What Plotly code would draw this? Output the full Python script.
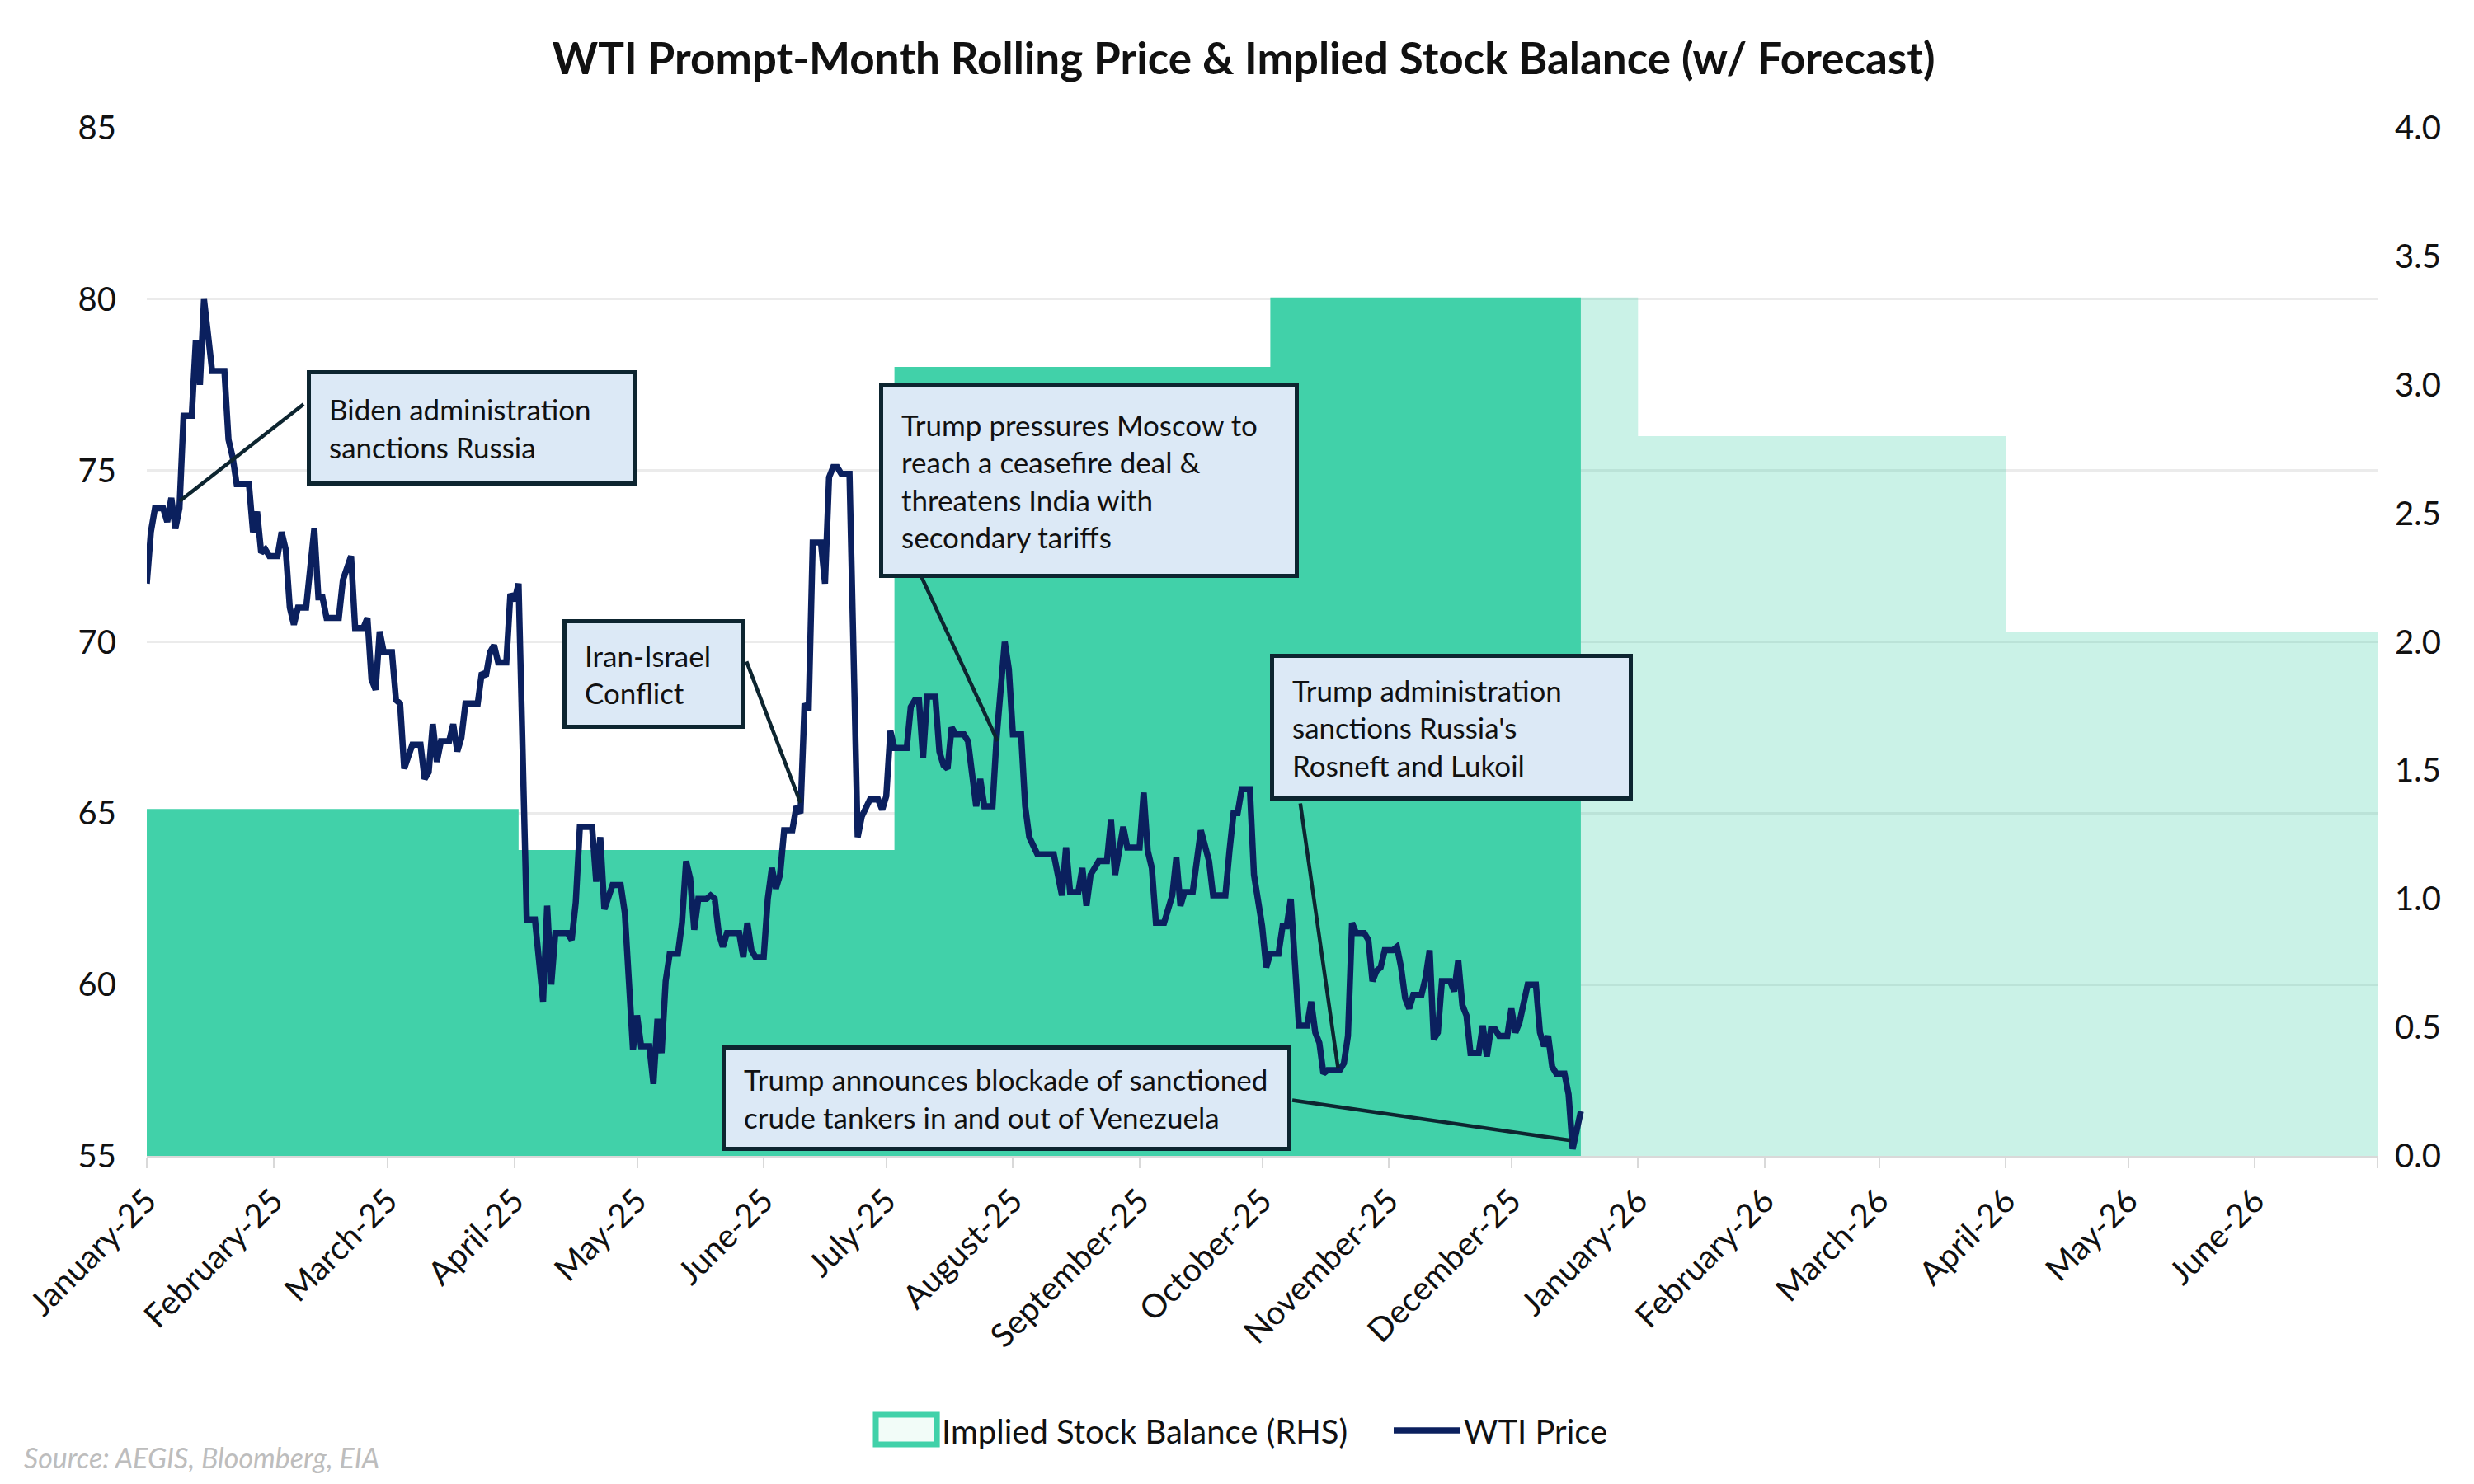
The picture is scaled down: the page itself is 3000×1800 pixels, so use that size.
import plotly.graph_objects as go

# ---------------- data ----------------
price_dates = [
    "2025-01-01", "2025-01-02", "2025-01-03", "2025-01-05", "2025-01-06", "2025-01-07", "2025-01-08",
    "2025-01-09", "2025-01-10", "2025-01-12", "2025-01-13", "2025-01-14", "2025-01-15", "2025-01-16",
    "2025-01-17", "2025-01-20", "2025-01-21", "2025-01-22", "2025-01-23", "2025-01-26", "2025-01-27",
    "2025-01-28", "2025-01-29", "2025-01-30", "2025-01-31", "2025-02-02", "2025-02-03", "2025-02-04",
    "2025-02-05", "2025-02-06", "2025-02-07", "2025-02-09", "2025-02-11", "2025-02-12", "2025-02-13",
    "2025-02-14", "2025-02-17", "2025-02-18", "2025-02-20", "2025-02-21", "2025-02-23", "2025-02-24",
    "2025-02-25", "2025-02-26", "2025-02-27", "2025-02-28", "2025-03-02", "2025-03-03", "2025-03-04",
    "2025-03-05", "2025-03-07", "2025-03-09", "2025-03-10", "2025-03-11", "2025-03-12", "2025-03-13",
    "2025-03-14", "2025-03-16", "2025-03-17", "2025-03-18", "2025-03-19", "2025-03-20", "2025-03-23",
    "2025-03-24", "2025-03-25", "2025-03-26", "2025-03-27", "2025-03-28", "2025-03-30", "2025-03-31",
    "2025-04-01", "2025-04-02", "2025-04-04", "2025-04-06", "2025-04-08", "2025-04-09", "2025-04-10",
    "2025-04-11", "2025-04-14", "2025-04-15", "2025-04-16", "2025-04-17", "2025-04-20", "2025-04-21",
    "2025-04-22", "2025-04-23", "2025-04-25", "2025-04-27", "2025-04-28", "2025-04-30", "2025-05-01",
    "2025-05-02", "2025-05-04", "2025-05-05", "2025-05-06", "2025-05-07", "2025-05-08", "2025-05-09",
    "2025-05-11", "2025-05-12", "2025-05-13", "2025-05-14", "2025-05-15", "2025-05-16", "2025-05-18",
    "2025-05-19", "2025-05-20", "2025-05-21", "2025-05-22", "2025-05-23", "2025-05-26", "2025-05-27",
    "2025-05-28", "2025-05-29", "2025-05-30", "2025-06-01", "2025-06-02", "2025-06-03", "2025-06-04",
    "2025-06-05", "2025-06-06", "2025-06-08", "2025-06-09", "2025-06-10", "2025-06-11", "2025-06-12",
    "2025-06-13", "2025-06-15", "2025-06-16", "2025-06-17", "2025-06-18", "2025-06-19", "2025-06-20",
    "2025-06-22", "2025-06-24", "2025-06-25", "2025-06-27", "2025-06-29", "2025-06-30", "2025-07-01",
    "2025-07-02", "2025-07-03", "2025-07-06", "2025-07-07", "2025-07-08", "2025-07-09", "2025-07-10",
    "2025-07-11", "2025-07-13", "2025-07-14", "2025-07-15", "2025-07-16", "2025-07-17", "2025-07-18",
    "2025-07-20", "2025-07-21", "2025-07-23", "2025-07-24", "2025-07-25", "2025-07-27", "2025-07-28",
    "2025-07-30", "2025-07-31", "2025-08-01", "2025-08-03", "2025-08-04", "2025-08-05", "2025-08-07",
    "2025-08-11", "2025-08-12", "2025-08-13", "2025-08-14", "2025-08-15", "2025-08-17", "2025-08-18",
    "2025-08-19", "2025-08-20", "2025-08-22", "2025-08-24", "2025-08-25", "2025-08-26", "2025-08-28",
    "2025-08-29", "2025-09-01", "2025-09-02", "2025-09-03", "2025-09-04", "2025-09-05", "2025-09-07",
    "2025-09-09", "2025-09-10", "2025-09-11", "2025-09-12", "2025-09-14", "2025-09-16", "2025-09-18",
    "2025-09-19", "2025-09-21", "2025-09-22", "2025-09-23", "2025-09-24", "2025-09-25", "2025-09-26",
    "2025-09-28", "2025-09-29", "2025-10-01", "2025-10-02", "2025-10-03", "2025-10-05", "2025-10-06",
    "2025-10-07", "2025-10-08", "2025-10-10", "2025-10-12", "2025-10-13", "2025-10-14", "2025-10-15",
    "2025-10-16", "2025-10-17", "2025-10-20", "2025-10-21", "2025-10-22", "2025-10-23", "2025-10-24",
    "2025-10-26", "2025-10-27", "2025-10-28", "2025-10-29", "2025-10-30", "2025-10-31", "2025-11-02",
    "2025-11-03", "2025-11-04", "2025-11-05", "2025-11-06", "2025-11-07", "2025-11-09", "2025-11-10",
    "2025-11-11", "2025-11-12", "2025-11-13", "2025-11-14", "2025-11-16", "2025-11-17", "2025-11-18",
    "2025-11-19", "2025-11-20", "2025-11-21", "2025-11-23", "2025-11-24", "2025-11-25", "2025-11-26",
    "2025-11-27", "2025-11-28", "2025-11-30", "2025-12-01", "2025-12-02", "2025-12-03", "2025-12-05",
    "2025-12-07", "2025-12-08", "2025-12-09", "2025-12-10", "2025-12-11", "2025-12-12", "2025-12-14",
    "2025-12-15", "2025-12-16", "2025-12-17", "2025-12-18",
]
price_values = [
    71.7, 73.2, 73.9, 73.9, 73.5, 74.2, 73.3,
    73.9, 76.6, 76.6, 78.8, 77.5, 80.0, 79.0,
    77.9, 77.9, 75.9, 75.4, 74.6, 74.6, 73.2,
    73.8, 72.6, 72.7, 72.5, 72.5, 73.2, 72.7,
    71.0, 70.5, 71.0, 71.0, 73.3, 71.3, 71.3,
    70.7, 70.7, 71.8, 72.5, 70.4, 70.4, 70.7,
    68.9, 68.6, 70.3, 69.7, 69.7, 68.3, 68.2,
    66.3, 67.0, 67.0, 66.0, 66.2, 67.6, 66.5,
    67.1, 67.1, 67.6, 66.8, 67.2, 68.2, 68.2,
    69.1, 69.0, 69.7, 69.9, 69.4, 69.4, 71.4,
    71.2, 71.7, 61.9, 61.9, 59.5, 62.3, 60.0,
    61.5, 61.5, 61.3, 62.4, 64.6, 64.6, 63.0,
    64.3, 62.2, 62.9, 62.9, 62.1, 58.1, 59.1,
    58.2, 58.2, 57.1, 59.0, 58.0, 60.1, 60.9,
    60.9, 61.8, 63.6, 63.1, 61.6, 62.5, 62.5,
    62.6, 62.5, 61.5, 61.1, 61.5, 61.5, 60.8,
    61.8, 61.0, 60.8, 60.8, 62.5, 63.4, 62.8,
    63.2, 64.5, 64.5, 65.2, 65.0, 68.2, 68.0,
    72.9, 72.9, 71.7, 74.8, 75.1, 75.1, 74.9,
    74.9, 64.3, 64.9, 65.4, 65.4, 65.1, 65.5,
    67.4, 66.9, 66.9, 68.1, 68.3, 68.3, 66.6,
    68.4, 68.4, 66.8, 66.4, 66.3, 67.5, 67.3,
    67.3, 67.1, 65.2, 66.0, 65.2, 65.2, 67.2,
    70.0, 69.2, 67.3, 67.3, 65.2, 64.3, 63.8,
    63.8, 63.2, 62.6, 64.0, 62.7, 62.7, 63.4,
    62.3, 63.2, 63.6, 63.6, 64.8, 63.2, 64.6,
    64.0, 64.0, 65.6, 63.9, 63.4, 61.8, 61.8,
    62.6, 63.7, 62.3, 62.7, 62.7, 64.5, 63.6,
    62.6, 62.6, 62.6, 63.9, 65.0, 65.0, 65.7,
    65.7, 63.2, 61.7, 60.5, 60.9, 60.9, 61.7,
    61.7, 62.5, 58.8, 58.8, 59.5, 58.6, 58.3,
    57.4, 57.5, 57.5, 57.7, 58.5, 61.8, 61.5,
    61.5, 61.3, 60.1, 60.4, 60.5, 61.0, 61.0,
    61.1, 60.5, 59.6, 59.3, 59.7, 59.7, 60.2,
    61.0, 58.4, 58.6, 60.1, 60.1, 59.8, 60.7,
    59.4, 59.1, 58.0, 58.0, 58.8, 57.9, 58.7,
    58.7, 58.5, 58.5, 59.3, 58.6, 58.9, 60.0,
    60.0, 58.6, 58.2, 58.5, 57.6, 57.4, 57.4,
    56.8, 55.2, 55.8, 56.3,
]

stock_actual_dates = ["2025-01-01", "2025-04-02", "2025-07-03", "2025-10-03", "2025-12-18"]
stock_actual_values = [1.35, 1.19, 3.07, 3.34, 3.34]
stock_forecast_dates = ["2025-12-18", "2026-01-01", "2026-04-01", "2026-07-01"]
stock_forecast_values = [3.34, 2.80, 2.04, 2.04]

tick_dates = [
    "2025-01-01", "2025-02-01", "2025-03-01", "2025-04-01", "2025-05-01", "2025-06-01",
    "2025-07-01", "2025-08-01", "2025-09-01", "2025-10-01", "2025-11-01", "2025-12-01",
    "2026-01-01", "2026-02-01", "2026-03-01", "2026-04-01", "2026-05-01", "2026-06-01",
    "2026-07-01",
]
tick_labels = [
    "January-25", "February-25", "March-25", "April-25", "May-25", "June-25",
    "July-25", "August-25", "September-25", "October-25", "November-25", "December-25",
    "January-26", "February-26", "March-26", "April-26", "May-26", "June-26",
    "",
]

event_texts = [
    "Biden administration<br>sanctions Russia",
    "Iran-Israel<br>Conflict",
    "Trump pressures Moscow to<br>reach a ceasefire deal &<br>threatens India with<br>secondary tariffs",
    "Trump administration<br>sanctions Russia's<br>Rosneft and Lukoil",
    "Trump announces blockade of sanctioned<br>crude tankers in and out of Venezuela",
]
event_dates = ["2025-01-09", "2025-06-10", "2025-07-28 06:00", "2025-10-19 14:00", "2025-12-15 12:00"]
event_prices = [74.1, 65.3, 67.1, 57.55, 55.45]

# ---------------- styles / positions ----------------
FONT = "Lato"
DARK_TEAL = "#41D1A9"
LIGHT_TEAL = "rgba(65,209,169,0.28)"
NAVY = "#0B205E"
BOX_BORDER = "#0D2530"
BOX_BG = "#DCE9F6"
TXT = "#111111"

# box: (paper x left, paper y top, width, height), leader tail offset (px) from point
box_geom = [
    (0.0717, 0.7642, 346, 86, 152, -119),
    (0.1863, 0.5221, 168, 79, -66, -173),
    (0.3283, 0.7514, 455, 182, -94, -203),
    (0.5035, 0.4884, 386, 124, -46, -323),
    (0.2577, 0.1075, 637, 74, -339, -49),
]

fig = go.Figure()

fig.add_trace(go.Scatter(
    x=stock_actual_dates, y=stock_actual_values, yaxis="y",
    mode="lines", line=dict(shape="hv", width=0, color=DARK_TEAL),
    fill="tozeroy", fillcolor=DARK_TEAL, showlegend=False, hoverinfo="skip",
))
fig.add_trace(go.Scatter(
    x=stock_forecast_dates, y=stock_forecast_values, yaxis="y",
    mode="lines", line=dict(shape="hv", width=0, color=LIGHT_TEAL),
    fill="tozeroy", fillcolor=LIGHT_TEAL, showlegend=False, hoverinfo="skip",
))
# legend entry for the stock balance (its swatch is drawn as a shape below)
fig.add_trace(go.Scatter(
    x=[None], y=[None], yaxis="y", mode="lines", name="Implied Stock Balance (RHS)",
    line=dict(color="rgba(0,0,0,0)", width=1), legend="legend",
))
fig.add_trace(go.Scatter(
    x=price_dates, y=price_values, yaxis="y2", mode="lines", name="WTI Price",
    line=dict(color=NAVY, width=7.5), legend="legend2",
))

annotations = []
for text, d, p, g in zip(event_texts, event_dates, event_prices, box_geom):
    xl, yt, w, h, ax, ay = g
    annotations.append(dict(
        x=d, y=p, xref="x", yref="y2", text="", showarrow=True, arrowhead=0,
        arrowwidth=4.5, arrowcolor=BOX_BORDER, ax=ax, ay=ay, standoff=0,
    ))
    annotations.append(dict(
        x=xl, y=yt, xref="paper", yref="paper", xanchor="left", yanchor="top",
        text=text, showarrow=False, align="left", valign="middle",
        width=w, height=h, bgcolor=BOX_BG, bordercolor=BOX_BORDER,
        borderwidth=5, borderpad=22, font=dict(family=FONT, size=35, color=TXT),
    ))
annotations.append(dict(
    x=-0.0558, y=-0.2935, xref="paper", yref="paper", xanchor="left", yanchor="middle",
    text="<i>Source: AEGIS, Bloomberg, EIA</i>", showarrow=False,
    font=dict(family=FONT, size=34, color="#BDBDBD"),
))

legend_swatch = dict(
    type="rect", xref="paper", yref="paper",
    x0=0.3268, x1=0.3542, y0=-0.2807, y1=-0.2518,
    line=dict(color=DARK_TEAL, width=7), fillcolor="#F2FCF8", layer="above",
)

legend_common = dict(
    orientation="h", xref="container", yref="container",
    xanchor="left", yanchor="middle", y=1 - 1727 / 1800,
    font=dict(family=FONT, size=40, color=TXT),
    itemwidth=80, bgcolor="rgba(0,0,0,0)",
)

fig.update_layout(
    width=3000, height=1800,
    margin=dict(l=170, r=125, t=147, b=406),
    paper_bgcolor="white", plot_bgcolor="white",
    font=dict(family=FONT, size=40, color=TXT),
    title=dict(
        text="<b>WTI Prompt-Month Rolling Price & Implied Stock Balance (w/ Forecast)</b>",
        x=0.5, xanchor="center", xref="container",
        y=1 - 63 / 1800, yanchor="middle", yref="container",
        font=dict(family=FONT, size=53, color=TXT),
    ),
    xaxis=dict(
        type="date", range=["2025-01-01", "2026-07-01"],
        tickvals=tick_dates, ticktext=tick_labels, tickangle=-45,
        ticks="outside", ticklen=12, tickwidth=2, tickcolor="#D9D9D9",
        showline=True, linecolor="#D9D9D9", linewidth=3,
        showgrid=False, zeroline=False,
        tickfont=dict(family=FONT, size=40, color=TXT),
    ),
    yaxis=dict(
        range=[0, 4], dtick=0.5, tickformat=".1f", side="right",
        showgrid=False, zeroline=False, showline=False,
        tickfont=dict(family=FONT, size=40, color=TXT),
        ticklabelstandoff=20,
    ),
    yaxis2=dict(
        range=[55, 85], dtick=5, side="left", overlaying="y", anchor="x",
        showgrid=True, gridcolor="#EBEBEB", gridwidth=2.5,
        zeroline=False, showline=False,
        tickfont=dict(family=FONT, size=40, color=TXT),
        ticklabelstandoff=36,
    ),
    legend=dict(x=1044 / 3000, **legend_common),
    legend2=dict(x=1677 / 3000, **legend_common),
    annotations=annotations,
    shapes=[legend_swatch],
    showlegend=True,
)

fig.write_html("out.html")
